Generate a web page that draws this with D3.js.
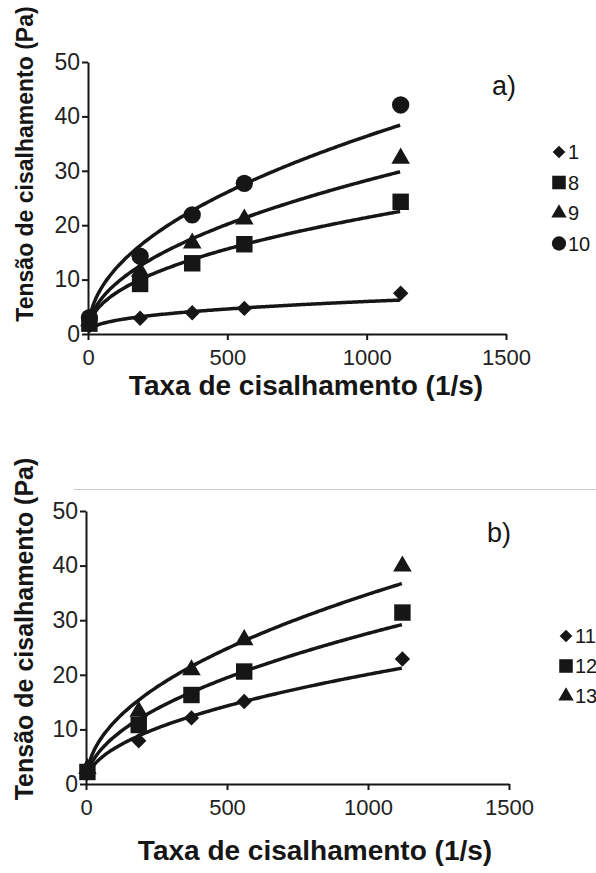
<!DOCTYPE html>
<html>
<head>
<meta charset="utf-8">
<script src="https://cdn.jsdelivr.net/npm/d3@7"></script>
<style>
  body { margin: 0; background: #fff; }
  svg, svg text { font-family: "Liberation Sans", Arial, sans-serif; }
  svg { display: block; }
  .tick text { fill: #222; }
</style>
</head>
<body>
<div id="chart"></div>
<script>
/* Shear stress vs shear rate, two panels */

const shearRate = [5, 187, 374, 561, 1122];
const xTicks = [0, 500, 1000, 1500];
const yTicks = [0, 10, 20, 30, 40, 50];

// panel a)
const namesA = ["1", "8", "9", "10"];
const tauA1 = [1.5, 2.9, 3.9, 4.7, 7.5];
const tauA8 = [1.9, 9.2, 13.0, 16.5, 24.3];
const tauA9 = [2.4, 11.5, 16.7, 21.1, 32.3];
const tauA10 = [3.0, 14.3, 21.9, 27.7, 42.1];
const fitKA = [0.433, 0.93, 0.99, 1.32];
const fitNA = [0.38, 0.454, 0.485, 0.48];

// panel b)
const namesB = ["11", "12", "13"];
const tauB11 = [2.0, 7.9, 12.1, 15.1, 22.9];
const tauB12 = [2.2, 10.8, 16.3, 20.6, 31.4];
const tauB13 = [2.8, 13.3, 20.9, 26.4, 39.9];
const fitKB = [0.68, 0.854, 1.21];
const fitNB = [0.49, 0.503, 0.486];

const width = 596, height = 873;
const ink = "#161616";
const font = '"Liberation Sans", Arial, sans-serif';

const svg = d3.select("#chart")
  .append("svg")
  .attr("width", width)
  .attr("height", height);

// thin grey rule between the two panels
svg.append("line")
  .attr("x1", 74).attr("x2", width)
  .attr("y1", 489.5).attr("y2", 489.5)
  .attr("stroke", "#c8c8c8")
  .attr("stroke-width", 1);

const symbols = {
  diamond: d3.symbolSquare,
  square: d3.symbolSquare,
  triangle: d3.symbolTriangle,
  circle: d3.symbolCircle
};

function marker(g, shape, x, y, big) {
  let size = { diamond: 118, square: 270, triangle: 150, circle: 235 }[shape];
  if (!big) size = size * 0.68;
  g.append("path")
    .attr("d", d3.symbol().type(symbols[shape]).size(size)())
    .attr("transform", `translate(${x},${y})` + (shape == "diamond" ? " rotate(45)" : ""))
    .attr("fill", ink);
}

function drawPanel(p) {
  const g = svg.append("g");

  let x = d3.scaleLinear().domain([0, 1500]).range([p.left, p.right]);
  let y = d3.scaleLinear().domain([0, 50]).range([p.bottom, p.top]);

  g.append("g")
    .attr("transform", `translate(0,${p.bottom})`)
    .attr("font-family", font)
    .call(d3.axisBottom(x).tickValues(xTicks).tickFormat(d3.format("d"))
      .tickSize(6).tickPadding(9).tickSizeOuter(0))
    .call(a => a.selectAll("path, line").attr("stroke", ink).attr("stroke-width", 2))
    .call(a => a.selectAll("text").attr("font-size", 22));

  g.append("g")
    .attr("transform", `translate(${p.left},0)`)
    .attr("font-family", font)
    .call(d3.axisLeft(y).tickValues(yTicks).tickSize(6).tickPadding(2).tickSizeOuter(0))
    .call(a => a.selectAll("path, line").attr("stroke", ink).attr("stroke-width", 2))
    .call(a => a.selectAll("text").attr("font-size", 23));

  let line = d3.line()
    .x(d => x(d[0]))
    .y(d => y(d[1]))
    .curve(d3.curveBasis);

  p.series.forEach((s, i) => {
    // power-law fit  tau = K * rate^n
    let fit = d3.range(2, 1121, 8).concat([1120]).map(r => [r, p.K[i] * Math.pow(r, p.n[i])]);
    g.append("path")
      .datum(fit)
      .attr("d", line)
      .attr("fill", "none")
      .attr("stroke", ink)
      .attr("stroke-width", 3.5);

    s.values.forEach((v, j) => marker(g, s.shape, x(shearRate[j]), y(v), true));

    // legend
    let ly = p.legendY + i * p.legendStep;
    marker(g, s.shape, p.legendX, ly, false);
    g.append("text")
      .attr("x", p.legendX + 9)
      .attr("y", ly + 7)
      .attr("font-size", 20)
      .attr("fill", ink)
      .text(s.name);
  });

  g.append("text")
    .attr("x", p.tagX)
    .attr("y", p.tagY)
    .attr("font-size", 27)
    .attr("fill", ink)
    .text(p.tag);

  g.append("text")
    .attr("text-anchor", "middle")
    .attr("x", p.xTitleX)
    .attr("y", p.xTitleY)
    .attr("font-size", 28)
    .attr("font-weight", "bold")
    .attr("fill", ink)
    .text("Taxa de cisalhamento (1/s)");

  g.append("text")
    .attr("text-anchor", "middle")
    .attr("transform", `translate(33,${p.yTitleY}) rotate(-90)`)
    .attr("font-size", p.yTitleSize)
    .attr("font-weight", "bold")
    .attr("fill", ink)
    .text("Tensão de cisalhamento (Pa)");
}

const shapesA = ["diamond", "square", "triangle", "circle"];
const shapesB = ["diamond", "square", "triangle"];

drawPanel({
  left: 88, right: 506, top: 62, bottom: 334,
  series: [tauA1, tauA8, tauA9, tauA10].map((v, i) => ({ name: namesA[i], shape: shapesA[i], values: v })),
  K: fitKA, n: fitNA,
  legendX: 559, legendY: 152, legendStep: 30.5,
  tag: "a)", tagX: 492, tagY: 95,
  xTitleX: 306, xTitleY: 395, yTitleY: 164, yTitleSize: 23
});

drawPanel({
  left: 86, right: 509, top: 511, bottom: 784,
  series: [tauB11, tauB12, tauB13].map((v, i) => ({ name: namesB[i], shape: shapesB[i], values: v })),
  K: fitKB, n: fitNB,
  legendX: 566, legendY: 636, legendStep: 30,
  tag: "b)", tagX: 487, tagY: 542,
  xTitleX: 315, xTitleY: 860, yTitleY: 629, yTitleSize: 25
});
</script>
</body>
</html>
